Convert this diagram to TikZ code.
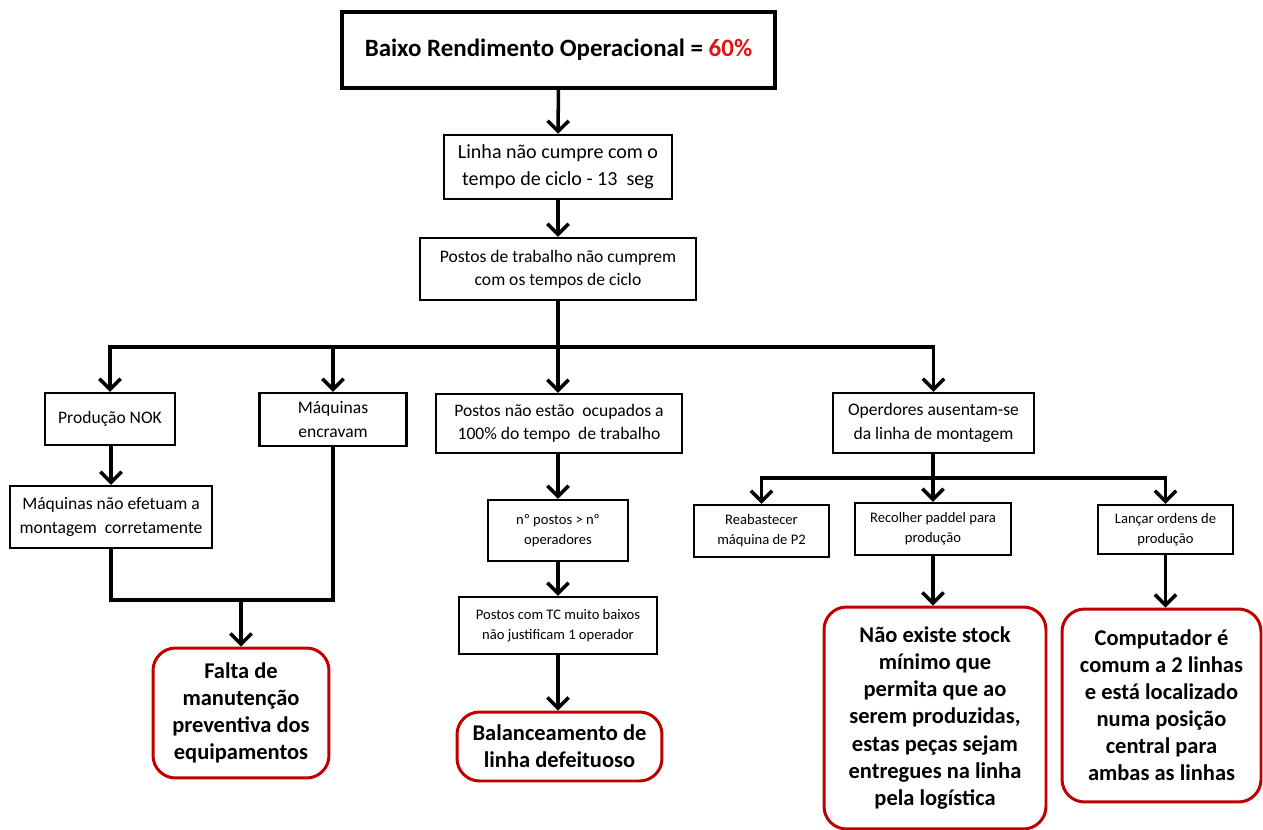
\documentclass[tikz,border=0pt]{standalone}
\usepackage{fontspec}
\setmainfont{Carlito}
\usetikzlibrary{arrows.meta}
\definecolor{redbox}{RGB}{192,0,0}
\definecolor{redtxt}{RGB}{225,20,20}
\tikzset{
  box/.style={draw=black, line width=1.4pt, fill=white, align=center, inner sep=0pt},
  bigbox/.style={box, line width=2pt},
  midtxt/.style={font=\fontsize{10}{13.2}\selectfont},
  smalltxt/.style={font=\fontsize{8.3}{11.3}\selectfont},
  redb/.style={draw=redbox, line width=1.7pt, rounded corners=0.45cm, fill=white, align=center, inner sep=0pt, font=\fontsize{12.8}{15.4}\selectfont\bfseries},
  conn/.style={line width=2pt, line join=miter},
  arr/.style={conn, -{Straight Barb[length=6pt,width=12pt]}},
}
\begin{document}
\begin{tikzpicture}[x=0.02cm,y=-0.02cm]
\useasboundingbox (0,0) rectangle (1263,830);

\node[bigbox, minimum width=8.66cm, minimum height=1.52cm, font=\fontsize{14.2}{17}\selectfont\bfseries] (top) at (558.5,50) {Baixo Rendimento Operacional = \textcolor{redtxt}{60\%}};
\node[box, minimum width=4.56cm, minimum height=1.28cm, font=\fontsize{11.4}{15.3}\selectfont] (b2) at (558,167) {Linha não cumpre com o\\tempo de ciclo - 13\ \ seg};
\node[box, minimum width=5.52cm, minimum height=1.24cm, midtxt] (b3) at (558,269) {Postos de trabalho não cumprem\\com os tempos de ciclo};

\node[box, minimum width=2.6cm, minimum height=1.04cm, midtxt] (prod) at (110,419) {Produção NOK};
\node[box, minimum width=2.94cm, minimum height=1.06cm, midtxt] (maqenc) at (333,419.5) {Máquinas\\encravam};
\node[box, minimum width=4.92cm, minimum height=1.18cm, midtxt] (postos) at (559,423.5) {Postos não estão\ \ ocupados a\\100\% do tempo\ \ de trabalho};
\node[box, minimum width=4.02cm, minimum height=1.2cm, midtxt] (operd) at (933.5,423) {Operdores ausentam-se\\da linha de montagem};

\node[box, minimum width=4.04cm, minimum height=1.24cm, midtxt] (maqnao) at (111,517) {Máquinas não efetuam a\\montagem\ \ corretamente};
\node[redb, minimum width=3.52cm, minimum height=2.6cm] (falta) at (241,713) {Falta de\\manutenção\\preventiva dos\\equipamentos};

\node[box, minimum width=2.8cm, minimum height=1.22cm, smalltxt] (npostos) at (558,530.5) {nº postos > nº\\operadores};
\node[box, minimum width=3.96cm, minimum height=1.14cm, smalltxt] (postostc) at (558,625.5) {Postos com TC muito baixos\\não justificam 1 operador};
\node[redb, minimum width=4.1cm, minimum height=1.38cm] (balanc) at (559.5,746.5) {Balanceamento de\\linha defeituoso};

\node[box, minimum width=2.7cm, minimum height=1.04cm, smalltxt] (reab) at (761.5,531) {Reabastecer\\máquina de P2};
\node[box, minimum width=3.12cm, minimum height=1.04cm, smalltxt] (recolher) at (933,529) {Recolher paddel para\\produção};
\node[box, minimum width=2.7cm, minimum height=0.98cm, smalltxt] (lancar) at (1165.5,529.5) {Lançar ordens de\\produção};

\node[redb, minimum width=4.44cm, minimum height=4.44cm] (naoexiste) at (935,718) {Não existe stock\\mínimo que\\permita que ao\\serem produzidas,\\estas peças sejam\\entregues na linha\\pela logística};
\node[redb, minimum width=3.98cm, minimum height=3.86cm] (comp) at (1161.5,705.5) {Computador é\\comum a 2 linhas\\e está localizado\\numa posição\\central para\\ambas as linhas};

% connectors
\draw[arr] (top) -- (b2);
\draw[arr] (b2) -- (b3);
\coordinate (j1) at (558,347);
\draw[conn] (b3.south) -- (j1);
\draw[arr] (j1) -| (prod.north);
\draw[arr] (j1) -| (maqenc.north);
\draw[arr] (j1) -- (postos.north -| j1);
\draw[arr] (j1) -| (operd.north);

\draw[arr] (prod.south -| maqnao.north) -- (maqnao.north);
\coordinate (j2) at (241,600);
\draw[conn] (maqnao.south) |- (maqenc.south |- j2) -- (maqenc.south);
\draw[arr] (j2) -- (falta.north);

\draw[arr] (postos.south -| j1) -- (npostos.north -| j1);
\draw[arr] (npostos.south -| j1) -- (postostc.north -| j1);
\draw[arr] (postostc.south -| j1) -- (balanc.north -| j1);

\coordinate (j3) at (933,478);
\draw[conn] (operd.south -| j3) -- (j3);
\draw[arr] (j3) -| (reab.north);
\draw[arr] (j3) -- (recolher.north);
\draw[arr] (j3) -| (lancar.north);

\draw[arr] (recolher.south) -- (recolher.south |- naoexiste.north);
\draw[arr] (lancar.south) -- (lancar.south |- comp.north);
\end{tikzpicture}
\end{document}
